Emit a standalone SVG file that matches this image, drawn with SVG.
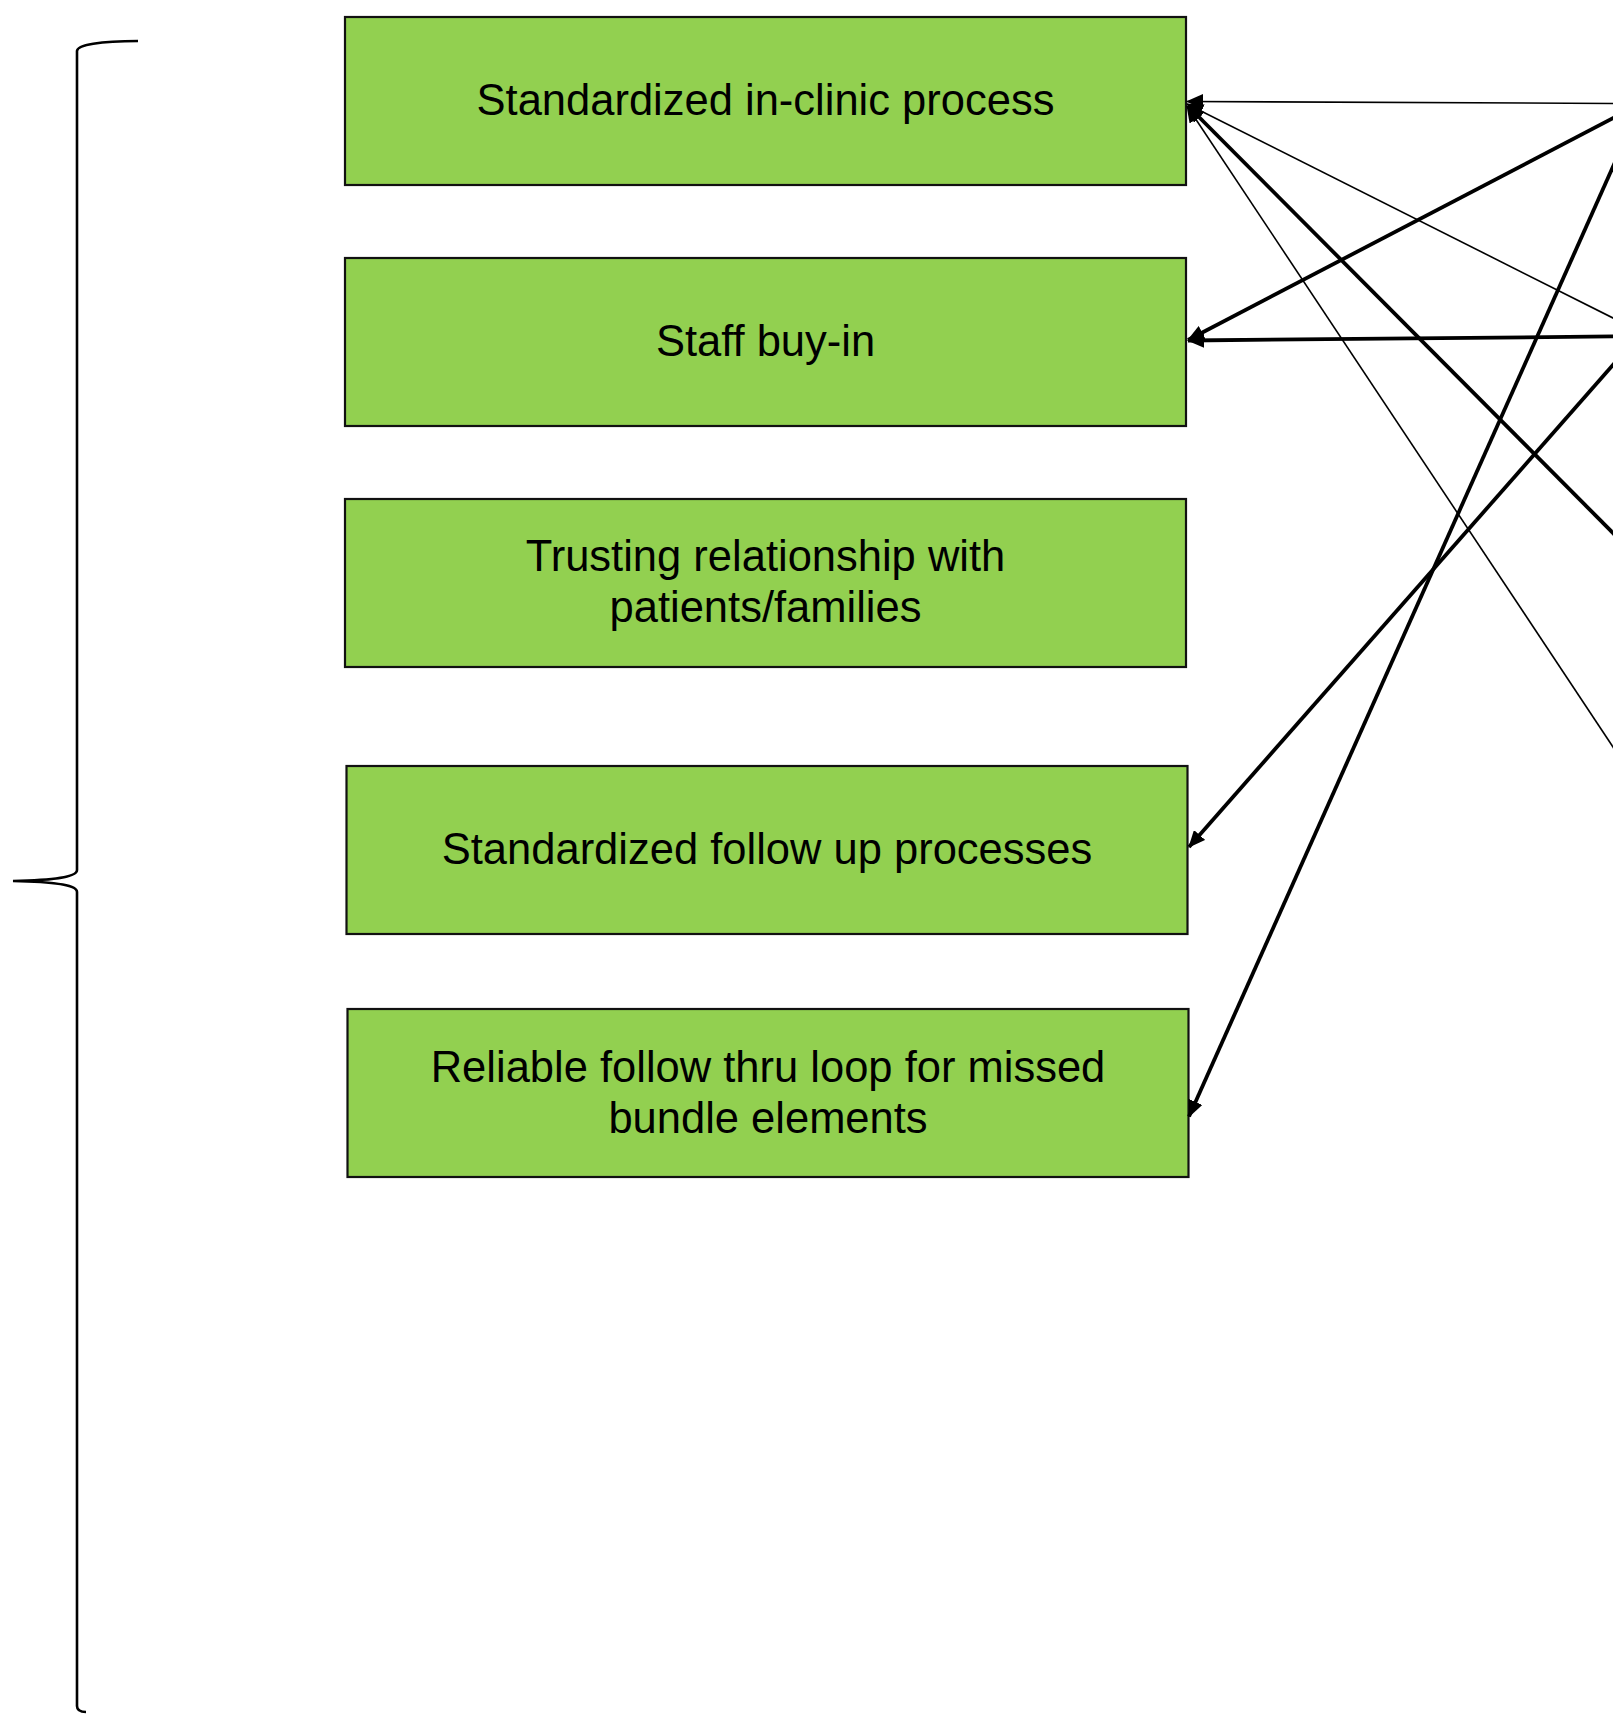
<svg xmlns="http://www.w3.org/2000/svg" width="1613" height="1715" viewBox="0 0 1613 1715">
<style>
.box{fill:#92D050;stroke:#111;stroke-width:2.2}
.lbl{font-family:"Liberation Sans",Arial,sans-serif;font-size:43.5px;fill:#000;text-anchor:middle}
.thin{stroke:#000;stroke-width:1.6;fill:none}
.thick{stroke:#000;stroke-width:3.8;fill:none}
.brace{stroke:#000;stroke-width:2.6;fill:none}
</style>
<defs>
<marker id="ah" viewBox="0 0 17 15" refX="16" refY="7.5" markerUnits="userSpaceOnUse" markerWidth="17" markerHeight="15" orient="auto">
<path d="M0,0 L17,7.5 L0,15 z" fill="#000"/>
</marker>
</defs>
<rect width="1613" height="1715" fill="#fff"/>
<g id="brace">
<path class="brace" d="M138,41 C100,41 77,45 77,51 L77,870 C77,876 60,880 13,881 C60,882 77,886 77,892 L77,1706 C77,1710 80,1712 86,1712"/>
</g>
<g id="node1">
<rect class="box" x="345" y="17" width="841" height="168"/>
<text class="lbl" x="765.5" y="115">Standardized in-clinic process</text>
</g>
<g id="node2">
<rect class="box" x="345" y="258" width="841" height="168"/>
<text class="lbl" x="765.5" y="356">Staff buy-in</text>
</g>
<g id="node3">
<rect class="box" x="345" y="499" width="841" height="168"/>
<text class="lbl" x="765.5" y="571">Trusting relationship with</text>
<text class="lbl" x="765.5" y="622">patients/families</text>
</g>
<g id="node4">
<rect class="box" x="346.5" y="766" width="841" height="168"/>
<text class="lbl" x="767" y="864">Standardized follow up processes</text>
</g>
<g id="node5">
<rect class="box" x="347.5" y="1009" width="841" height="168"/>
<text class="lbl" x="768" y="1082">Reliable follow thru loop for missed</text>
<text class="lbl" x="768" y="1133">bundle elements</text>
</g>
<g id="connectors">
<line class="thin" x1="1620" y1="103.5" x2="1187" y2="101.5" marker-end="url(#ah)"/>
<line class="thin" x1="1620" y1="321.5" x2="1187" y2="104" marker-end="url(#ah)"/>
<line class="thick" x1="1620" y1="540" x2="1188" y2="106" marker-end="url(#ah)"/>
<line class="thin" x1="1620" y1="757.5" x2="1187" y2="106" marker-end="url(#ah)"/>
<line class="thick" x1="1620" y1="114.5" x2="1188" y2="340" marker-end="url(#ah)"/>
<line class="thick" x1="1620" y1="336.4" x2="1188" y2="340.5" marker-end="url(#ah)"/>
<line class="thick" x1="1620" y1="357" x2="1189" y2="847" marker-end="url(#ah)"/>
<line class="thick" x1="1620" y1="151" x2="1189" y2="1116.5" marker-end="url(#ah)"/>
</g>
</svg>
